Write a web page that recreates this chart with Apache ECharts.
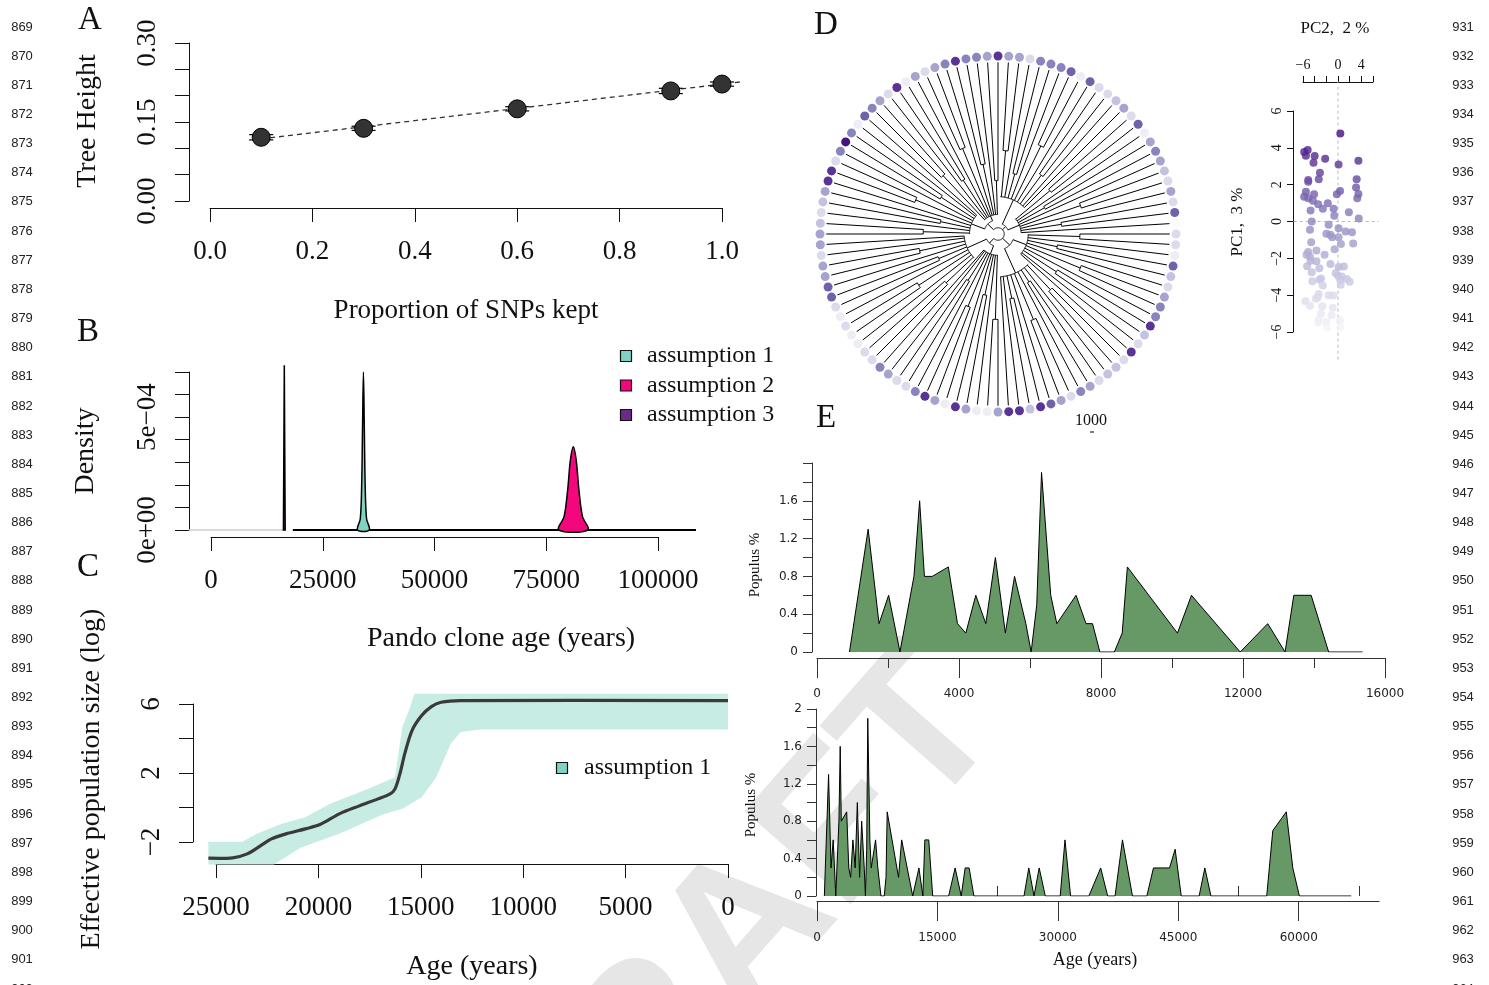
<!DOCTYPE html>
<html>
<head>
<meta charset="utf-8">
<title>Pando clone figure</title>
<script src="https://cdn.jsdelivr.net/npm/echarts@6.0.0/dist/echarts.min.js"></script>
<style>
  html, body { margin: 0; padding: 0; background: #fff; }
  #main { width: 1489px; height: 985px; }
</style>
</head>
<body>
<div id="main"></div>
<script>
// ---------- A: tree height vs proportion of SNPs ----------
const snpProp = [0.1, 0.3, 0.6, 0.9, 1.0];
const treeHeight = [0.121, 0.138, 0.175, 0.209, 0.222];
const treeHeightErr = [0.005, 0.004, 0.004, 0.005, 0.004];
const fitLine = [[0.1, 0.118], [1.035, 0.226]];

// ---------- B: clone age densities ----------
const grayBase = [[-5000, 0], [16200, 0]];
const blackBase = [[18300, 0], [108500, 0]];
const dens3 = [[16200, 0], [16400, 0.00073], [16600, 0]];
const dens1 = [[32800, 0], [33400, 0.00005], [33700, 0.00019], [33900, 0.00045], [34100, 0.0007],
  [34300, 0.00045], [34500, 0.00019], [34800, 0.00005], [35400, 0]];
const dens2 = [[77800, 0], [79000, 0.00006], [79800, 0.00018], [80400, 0.00031], [81050, 0.000369],
  [81700, 0.00031], [82300, 0.00018], [83100, 0.00006], [84300, 0]];

// ---------- C: effective population size ----------
const neAge = [25372, 24187, 23477, 22766, 22295, 21583, 20636, 19926, 18980, 18033, 17087, 16496,
  16257, 16021, 15785, 15430, 14957, 14483, 14009, 13062, 0];
const neMed = [-2.94, -2.92, -2.69, -2.17, -1.82, -1.53, -1.24, -0.99, -0.37, 0.08, 0.5, 0.79,
  1.08, 1.95, 3.11, 4.46, 5.33, 5.85, 6.1, 6.2, 6.2];
const upAge = [25372, 23716, 23006, 21823, 20636, 19453, 17559, 16257, 15902, 15547, 15310, 0];
const upVal = [-1.99, -1.99, -1.52, -0.95, -0.56, 0.21, 1.08, 1.76, 4.66, 5.72, 6.59, 6.59];
const loAge = [25372, 22177, 20873, 18980, 16850, 15902, 14957, 14247, 13537, 13062, 12115, 0];
const loVal = [-3.3, -3.3, -2.34, -1.52, -0.4, -0.07, 0.6, 1.76, 3.69, 4.37, 4.52, 4.52];

// ---------- D: tree (leaves around the fan) ----------
// shade index per leaf, clockwise from 9 o'clock
const leafShade = [4,3,2,3,4,7,7,2,5,8,5,1,6,5,4,2,7,1,4,2,4,5,7,5,5,4,7,4,4,2,5,5,5,6,1,6,2,2,3,4,2,6,1,4,5,4,3,2,4,2,6,
  0,
  2,2,1,6,3,2,4,5,5,7,3,2,7,2,3,3,2,4,5,2,4,6,7,3,7,7,4,1,1,4,7,1,4,7,5,2,2,4,5,2,2,1,1,2,1,2,6,6,4,4,2,4];
const treePalette = ['#fbfafd', '#eeecf5', '#dcdbec', '#c4c2e0', '#a7a3cf', '#8a84be', '#7161ab', '#593496', '#45117f'];
// cherries: [leaf a, leaf b, node depth]
const cherries = [[0,1,0.42],[3,4,0.33],[6,7,0.5],[9,10,0.38],
  [13,14,0.45],[16,17,0.36],[19,20,0.52],[22,23,0.4],[25,26,0.3],
  [27,28,0.47],[30,31,0.35],[33,34,0.55],[36,37,0.41],
  [40,41,0.38],[43,44,0.3],[46,47,0.49],[49,50,0.36],
  [52,53,0.46],[55,56,0.34],[58,59,0.5],[61,62,0.39],
  [65,66,0.43],[68,69,0.32],[71,72,0.52],[74,75,0.37],
  [78,79,0.48],[81,82,0.35],[84,85,0.44],[87,88,0.31],
  [91,92,0.4],[94,95,0.53],[97,98,0.36],[100,101,0.45]];
// clades: [first leaf, last leaf, node depth, parent depth]
const clades = [[0,12,0.16,0.08],[13,26,0.11,0.08],[27,39,0.21,0.06],[40,51,0.13,0.06],
  [52,64,0.17,0.09],[65,77,0.24,0.09],[78,90,0.12,0.07],[91,103,0.19,0.07],
  [6,19.5,0.08,0.035],[33,45.5,0.06,0.035],[58,71,0.09,0.035],[84,97,0.07,0.035],
  [12.75,90.5,0.035,0.035]];

// ---------- D: PCA ----------
const pc2 = [0.4,-5.8,-5.2,-6.1,-5.5,-4.0,-4.2,-2.2,0.1,3.5,-3.1,-3.3,-5.1,-5.1,3.2,3.1,3.5,3.3,-5.5,-4.1,
  -5.8,-5.1,-4.3,0.35,-0.2,-1.75,-3.4,-2.6,-4.7,-0.75,1.86,3.55,-0.64,-4.5,-1.6,0.1,-4.8,1.3,2.4,-2.0,
  -1.3,-1.0,0.1,0.5,2.6,-4.6,-0.6,-3.7,-5.1,-5.4,-4.8,-2.3,-3.7,-5.3,-4.7,-1.3,0.1,1.0,-3.2,-4.5,
  -0.4,0,0.64,-2.9,-3.2,-4.4,-2.6,0.4,1.5,2.0,0.47,-1.6,-0.8,-3.3,-3.5,-5.6,-4.8,-3.8,-2.7,-0.9,
  -2.9,-1.1,-3.3,-3.4,-2.0,0.35,-1.9,0.4,-0.75,-1.5];
const pc1 = [4.78,3.78,3.88,3.7,3.57,3.55,3.19,3.41,3.1,3.3,2.65,2.29,2.25,2.16,2.29,1.84,1.5,1.26,1.62,1.48,
  1.35,1.26,1.12,1.66,1.48,0.99,0.94,0.69,0.6,0.69,0.5,0.16,0.31,0,-0.18,-0.36,-0.45,-0.54,-0.58,-0.67,
  -0.72,-0.85,-0.85,-1.22,-1.19,-1.12,-1.5,-1.57,-1.66,-1.8,-1.91,-1.8,-2.16,-2.43,-2.13,-2.31,-2.47,-2.45,-2.54,-2.76,
  -2.8,-2.94,-2.98,-3.09,-3.16,-3.25,-3.47,-3.19,-3.12,-3.27,-3.43,-4.0,-4.02,-3.94,-4.12,-4.33,-4.57,-4.2,-4.6,-4.69,
  -5.0,-5.09,-5.32,-5.5,-5.46,-5.36,-5.77,-5.71,-6.04,-6.1];
const pcaRefV = [[0, -7.5], [0, 7.6]];
const pcaRefH = [[-7.6, 0], [7.0, 0]];

// ---------- E: Populus pollen record ----------
const eAge = [915,1441,1748,2018,2337,2731,2891,3026,3246,3699,3958,4192,4473,4755,5025,5306,5565,5883,6033,6190,
  6325,6584,6756,7296,7578,7761,7969,8375,8597,8743,10154,10548,11922,12696,13185,13431,13920,14413,15370,
  16397,17206,17965,18451,18949,19547,25784,26382,27029,27676,28436,30291,30888,31586,33864,35333,36205,
  37126,38047,39292,41085,41907,43911,44608,45368,47596,48306,49065,56013,56772,58453,59262,60084,66545];
const ePct = [0,1.3,0.3,0.6,0,0.8,1.6,0.8,0.8,0.9,0.3,0.2,0.6,0.3,1.0,0.2,0.8,0.3,0,0.5,
  1.9,0.6,0.3,0.6,0.3,0.3,0,0,0.2,0.9,0.2,0.6,0,0.3,0,0.6,0.6,0,0,
  0,0.3,0,0.3,0.3,0,0,0.3,0,0.3,0,0,0.6,0,0,0.3,0,
  0,0.6,0,0,0.3,0.3,0.5,0,0,0.3,0,0,0.7,0.9,0.3,0,0];
const eTopMaxAge = 15400;

// ---------- styling helpers ----------
const SERIF = '"Liberation Serif", "Times New Roman", serif';
const SANS = '"DejaVu Sans", Verdana, sans-serif';
const INK = '#111';
const TEAL = '#80d3c2';
const TEAL_BAND = '#c7ece3';
const MAGENTA = '#f2077d';
const PURPLE = '#6b2a86';
const GREEN = '#669966';
const minus = v => String(v).replace('-', '\u2212');
const plain = v => String(v);

function rAxis(o) {
  return Object.assign({
    type: 'value',
    splitLine: { show: false },
    axisLine: { show: true, onZero: false, lineStyle: { color: INK, width: 1 } },
    axisTick: { show: true, inside: false, length: 14, lineStyle: { color: INK, width: 1 } },
    axisLabel: { color: INK, fontFamily: SERIF, fontSize: 27, margin: 30, formatter: plain }
  }, o);
}

const chart = echarts.init(document.getElementById('main'), null, { renderer: 'canvas' });

const grids = [
  { left: 210, top: 43, width: 512, height: 158 },   // A
  { left: 211, top: 372, width: 447, height: 158 },  // B
  { left: 216, top: 704, width: 512, height: 138 },  // C
  { left: 817, top: 463, width: 568, height: 189 },  // E top
  { left: 817, top: 709, width: 562, height: 187 },  // E bottom
  { left: 1303, top: 111, width: 70, height: 221 }   // PCA
].map(g => Object.assign({ containLabel: false, outerBoundsMode: 'none' }, g));

const eTick = { show: true, length: 20, lineStyle: { color: '#333' } };
const eLine = { show: true, onZero: false, lineStyle: { color: '#333', width: 1 } };
const eLabel = { color: '#222', fontFamily: SANS, fontSize: 12 };

const xAxes = [
  rAxis({ gridIndex: 0, min: 0, max: 1, interval: 0.2, offset: 7,
    axisLabel: { color: INK, fontFamily: SERIF, fontSize: 27, margin: 30, formatter: v => v.toFixed(1) } }),
  rAxis({ gridIndex: 1, min: 0, max: 100000, interval: 25000, offset: 7 }),
  rAxis({ gridIndex: 2, min: 0, max: 25000, interval: 5000, inverse: true, offset: 22 }),
  { type: 'value', gridIndex: 3, min: 0, max: 16000, interval: 4000, offset: 6,
    splitLine: { show: false }, axisLine: eLine, axisTick: eTick,
    minorTick: { show: true, splitNumber: 2, length: 10, lineStyle: { color: '#333' } },
    axisLabel: Object.assign({ margin: 30, formatter: plain }, eLabel) },
  { type: 'value', gridIndex: 4, min: 0, max: 70000, offset: 5,
    splitLine: { show: false }, axisLine: eLine,
    axisTick: Object.assign({ customValues: [0, 15000, 30000, 45000, 60000] }, eTick),
    axisLabel: Object.assign({ margin: 31, formatter: plain, customValues: [0, 15000, 30000, 45000, 60000] }, eLabel) },
  { type: 'value', gridIndex: 4, min: 0, max: 70000, offset: 5,
    splitLine: { show: false }, axisLine: { show: false },
    axisTick: { show: true, length: 10, lineStyle: { color: '#333' }, customValues: [7500, 22500, 37500, 52500, 67500] },
    axisLabel: { show: false } },
  rAxis({ gridIndex: 5, min: -6, max: 6, interval: 2, position: 'top', offset: 29,
    axisTick: { show: true, length: 6, lineStyle: { color: INK } },
    axisLabel: { color: INK, fontFamily: SERIF, fontSize: 14, margin: 10,
      formatter: v => ([-6, 0, 4].includes(v) ? minus(v) : '') } })
];

const yAxes = [
  rAxis({ gridIndex: 0, min: 0, max: 0.3, interval: 0.05, offset: 21,
    axisLabel: { color: INK, fontFamily: SERIF, fontSize: 27, margin: 28, rotate: 90,
      formatter: v => (Math.round(v * 100) % 15 === 0 ? v.toFixed(2) : '') } }),
  rAxis({ gridIndex: 1, min: 0, max: 0.0007, interval: 0.0001, offset: 22,
    axisLabel: { color: INK, fontFamily: SERIF, fontSize: 27, margin: 28, rotate: 90,
      formatter: v => (v === 0 ? '0e+00' : (Math.abs(v - 0.0005) < 1e-9 ? '5e\u221204' : '')) } }),
  rAxis({ gridIndex: 2, min: -2, max: 6, interval: 2, offset: 23,
    axisLabel: { color: INK, fontFamily: SERIF, fontSize: 27, margin: 28, rotate: 90,
      formatter: v => ([6, 2, -2].includes(v) ? minus(v) : '') } }),
  { type: 'value', gridIndex: 3, min: 0, max: 2, interval: 0.2, offset: 5,
    splitLine: { show: false }, axisLine: eLine, axisTick: { show: true, length: 9, lineStyle: { color: '#333' } },
    axisLabel: Object.assign({ margin: 14,
      formatter: v => (Math.round(v * 10) % 4 === 0 && v < 1.9 ? String(+v.toFixed(1)) : '') }, eLabel) },
  { type: 'value', gridIndex: 4, min: 0, max: 2, interval: 0.2, offset: 1,
    splitLine: { show: false }, axisLine: eLine, axisTick: { show: true, length: 9, lineStyle: { color: '#333' } },
    axisLabel: Object.assign({ margin: 14,
      formatter: v => (Math.round(v * 10) % 4 === 0 || Math.round(v * 10) === 20 ? String(+v.toFixed(1)) : '') }, eLabel) },
  rAxis({ gridIndex: 5, min: -6, max: 6, interval: 2, offset: 10,
    axisTick: { show: true, length: 6, lineStyle: { color: INK } },
    axisLabel: { color: INK, fontFamily: SERIF, fontSize: 14, margin: 9, rotate: 90, formatter: v => minus(v) } })
];

// a polyline that may run past the axis ends (R draws outside the plot box)
function pathSeries(name, xi, yi, pts, style, z, smooth) {
  return {
    name, type: 'custom', xAxisIndex: xi, yAxisIndex: yi, z: z || 2, clip: false,
    data: [pts[0]],
    renderItem: (params, api) => ({
      type: 'polyline', shape: { points: pts.map(p => api.coord(p)), smooth: smooth || 0 },
      style: Object.assign({ fill: null }, style)
    })
  };
}
function areaSeries(name, xi, yi, pts, fill, z, smooth) {
  return {
    name, type: 'custom', xAxisIndex: xi, yAxisIndex: yi, z: z || 3, clip: false,
    data: [pts[0]],
    renderItem: (params, api) => ({
      type: 'polygon', shape: { points: pts.map(p => api.coord(p)), smooth: smooth || 0 },
      style: { fill, stroke: '#000', lineWidth: 1.5 }
    })
  };
}

const series = [];

// A
series.push(pathSeries('fit', 0, 0, fitLine, { stroke: '#333', lineWidth: 1.3, lineDash: [5, 4] }, 2));
series.push({
  name: 'errbars', type: 'custom', xAxisIndex: 0, yAxisIndex: 0, z: 3,
  data: snpProp.map((p, i) => [p, treeHeight[i], treeHeightErr[i]]),
  renderItem: (params, api) => {
    const x = api.value(0), y = api.value(1), e = api.value(2);
    const t = api.coord([x, y + e]), b = api.coord([x, y - e]);
    const w = 12, st = { stroke: '#000', lineWidth: 1.2 };
    return { type: 'group', children: [
      { type: 'line', shape: { x1: t[0], y1: t[1], x2: b[0], y2: b[1] }, style: st },
      { type: 'line', shape: { x1: t[0] - w, y1: t[1], x2: t[0] + w, y2: t[1] }, style: st },
      { type: 'line', shape: { x1: b[0] - w, y1: b[1], x2: b[0] + w, y2: b[1] }, style: st }
    ] };
  }
});
series.push({
  name: 'treeHeight', type: 'scatter', xAxisIndex: 0, yAxisIndex: 0, z: 4,
  data: snpProp.map((p, i) => [p, treeHeight[i]]), symbolSize: 18,
  itemStyle: { color: '#333', borderColor: '#000', borderWidth: 1, opacity: 1 }
});

// B
series.push(pathSeries('grayBase', 1, 1, grayBase, { stroke: '#cccccc', lineWidth: 1.5 }, 2));
series.push(pathSeries('blackBase', 1, 1, blackBase, { stroke: '#000', lineWidth: 2 }, 2));
series.push(areaSeries('assumption 3', 1, 1, dens3, PURPLE, 3, 0));
series.push(areaSeries('assumption 1', 1, 1, dens1, TEAL, 3, 0.35));
series.push(areaSeries('assumption 2', 1, 1, dens2, MAGENTA, 3, 0.35));

// C
series.push({
  name: 'neBand', type: 'custom', xAxisIndex: 2, yAxisIndex: 2, z: 1, data: [[12000, 0]], clip: false,
  renderItem: (params, api) => {
    const pts = upAge.map((a, i) => api.coord([a, upVal[i]]));
    for (let i = loAge.length - 1; i >= 0; i--) pts.push(api.coord([loAge[i], loVal[i]]));
    return { type: 'polygon', shape: { points: pts }, style: { fill: TEAL_BAND, stroke: null } };
  }
});
series.push(pathSeries('neMedian', 2, 2, neAge.map((a, i) => [a, neMed[i]]),
  { stroke: '#3a3a3a', lineWidth: 3.2, lineJoin: 'round' }, 3, 0.3));

// E
const ePts = eAge.map((a, i) => [a, ePct[i]]);
series.push({
  name: 'populusTop', type: 'line', xAxisIndex: 3, yAxisIndex: 3, symbol: 'none',
  data: ePts.filter(p => p[0] <= eTopMaxAge),
  lineStyle: { color: '#000', width: 1 }, areaStyle: { color: GREEN, opacity: 1 }
});
series.push({
  name: 'populusAll', type: 'line', xAxisIndex: 4, yAxisIndex: 4, symbol: 'none', data: ePts,
  lineStyle: { color: '#000', width: 1 }, areaStyle: { color: GREEN, opacity: 1 }
});

// PCA
const pcaRefStyle = { stroke: '#b8b8b8', lineWidth: 1, lineDash: [3, 3] };
series.push(pathSeries('pcaV', 6, 5, pcaRefV, pcaRefStyle, 1));
series.push(pathSeries('pcaH', 6, 5, pcaRefH, pcaRefStyle, 1));
series.push({
  name: 'pca', type: 'scatter', xAxisIndex: 6, yAxisIndex: 5, symbolSize: 8, z: 3,
  data: pc2.map((x, i) => [x, pc1[i]])
});
const pcaIndex = series.length - 1;

// D tree (polar)
const leafTip = 0.965;
const leafBase = leafShade.map((_, i) => {
  const c = cherries.find(c => c[0] === i || c[1] === i);
  if (c) return c[2];
  const cl = clades.slice(0, 8).find(c => i >= c[0] && i <= c[1]);
  return cl ? cl[2] : 0.1;
});
const cladeDepthOf = a => {
  const cl = clades.slice(0, 8).find(c => a >= c[0] && a <= c[1]);
  return cl ? cl[2] : 0.1;
};
const edgeStyle = { stroke: '#000', lineWidth: 1, fill: null };
series.push({
  name: 'leafEdges', type: 'custom', coordinateSystem: 'polar', polarIndex: 0, z: 2,
  data: leafShade.map((_, i) => [i, leafBase[i]]),
  renderItem: (params, api) => {
    const a = api.value(0), r0 = api.value(1);
    const p0 = api.coord([r0, a]), p1 = api.coord([leafTip, a]);
    return { type: 'line', shape: { x1: p0[0], y1: p0[1], x2: p1[0], y2: p1[1] }, style: edgeStyle };
  }
});
function arcNode(api, a0, a1, r, rp) {
  const pts = [];
  const n = Math.max(2, Math.ceil((a1 - a0) / 0.25));
  for (let k = 0; k <= n; k++) pts.push(api.coord([r, a0 + (a1 - a0) * k / n]));
  const mid = (a0 + a1) / 2;
  const s0 = api.coord([r, mid]), s1 = api.coord([rp, mid]);
  return { type: 'group', children: [
    { type: 'polyline', shape: { points: pts }, style: edgeStyle },
    { type: 'line', shape: { x1: s0[0], y1: s0[1], x2: s1[0], y2: s1[1] }, style: edgeStyle }
  ] };
}
series.push({
  name: 'cherryEdges', type: 'custom', coordinateSystem: 'polar', polarIndex: 0, z: 2,
  data: cherries.map(c => [c[0], c[1], c[2], cladeDepthOf(c[0])]),
  renderItem: (params, api) => arcNode(api, api.value(0), api.value(1), api.value(2), api.value(3))
});
series.push({
  name: 'cladeEdges', type: 'custom', coordinateSystem: 'polar', polarIndex: 0, z: 2,
  data: clades,
  renderItem: (params, api) => arcNode(api, api.value(0), api.value(1), api.value(2), api.value(3))
});
series.push({
  name: 'leafDots', type: 'scatter', coordinateSystem: 'polar', polarIndex: 0, z: 3, symbolSize: 9,
  data: leafShade.map((s, i) => [1, i, s]),
  itemStyle: { color: p => treePalette[p.value[2]], opacity: 1 }
});

// ---------- texts, legends, line numbers ----------
const g = [];
function txt(s, x, y, size, opt) {
  opt = opt || {};
  g.push({ type: 'text', x, y, rotation: opt.rot || 0, z: opt.z || 10, silent: true,
    style: { text: s, fontSize: size, fontFamily: opt.font || SERIF, fill: opt.fill || INK,
      align: opt.align || 'center', verticalAlign: 'middle', fontWeight: opt.weight || 'normal' } });
}
// watermark
g.push({ type: 'text', x: 735, y: 950, rotation: 0.85, z: -10, silent: true,
  style: { text: 'DRAFT', fontSize: 205, fontFamily: '"Liberation Sans", Arial, sans-serif', fontWeight: 'bold',
    fill: '#e6e6e6', align: 'center', verticalAlign: 'middle' } });

txt('A', 90, 20, 33); txt('B', 88, 332, 33); txt('C', 88, 567, 33); txt('D', 826, 25, 33); txt('E', 826, 418, 33);
txt('Tree Height', 88, 121, 28, { rot: Math.PI / 2 });
txt('Proportion of SNPs kept', 466, 311, 27);
txt('Density', 86, 451, 28, { rot: Math.PI / 2 });
txt('Pando clone age (years)', 501, 639, 28);
txt('Effective population size (log)', 92, 779, 28, { rot: Math.PI / 2 });
txt('Age (years)', 472, 967, 28);
txt('Populus %', 755, 565, 15, { rot: Math.PI / 2 });
txt('Populus %', 751, 805, 15, { rot: Math.PI / 2 });
txt('Age (years)', 1095, 960, 18);
txt('PC2,  2 %', 1335, 29, 17);
txt('PC1,  3 %', 1238, 222, 17, { rot: Math.PI / 2 });
txt('1000', 1091, 421, 16);
g.push({ type: 'line', shape: { x1: 1090, y1: 432, x2: 1094, y2: 432 }, style: { stroke: '#000', lineWidth: 1 } });

// legend B
const legB = [['assumption 1', TEAL], ['assumption 2', MAGENTA], ['assumption 3', PURPLE]];
legB.forEach(([s, c], i) => {
  const y = 356 + i * 29.5;
  g.push({ type: 'rect', shape: { x: 620.5, y: y - 5.5, width: 11, height: 11 }, z: 10,
    style: { fill: c, stroke: '#111', lineWidth: 1.2 } });
  txt(s, 647, y, 24, { align: 'left' });
});
// legend C
g.push({ type: 'rect', shape: { x: 556.5, y: 762.5, width: 11, height: 11 }, z: 10,
  style: { fill: TEAL, stroke: '#111', lineWidth: 1.2 } });
txt('assumption 1', 584, 768, 24, { align: 'left' });

// manuscript line numbers
for (let k = 0; k < 34; k++) {
  const y = 27 + k * 29.15;
  txt(String(869 + k), 22, y, 13, { font: '"Liberation Sans", Arial, sans-serif', fill: '#222' });
  txt(String(931 + k), 1463, y, 13, { font: '"Liberation Sans", Arial, sans-serif', fill: '#222' });
}

chart.setOption({
  backgroundColor: '#ffffff',
  animation: false,
  grid: grids,
  xAxis: xAxes,
  yAxis: yAxes,
  polar: { center: [998, 234], radius: 178 },
  angleAxis: { type: 'value', polarIndex: 0, min: 0, max: 104, startAngle: 180, clockwise: true, show: false,
    axisLine: { show: false }, axisTick: { show: false }, axisLabel: { show: false }, splitLine: { show: false } },
  radiusAxis: { type: 'value', polarIndex: 0, min: 0, max: 1, show: false,
    axisLine: { show: false }, axisTick: { show: false }, axisLabel: { show: false }, splitLine: { show: false } },
  visualMap: [{ type: 'continuous', show: false, seriesIndex: pcaIndex, dimension: 1, min: -6, max: 5,
    inRange: { color: ['#f7f6fb', '#e1e0ee', '#c3c2e0', '#a4a0cc', '#8680bc', '#6f55a6', '#572b91', '#43097e'] } }],
  series: series,
  graphic: { elements: g }
});
</script>
</body>
</html>
